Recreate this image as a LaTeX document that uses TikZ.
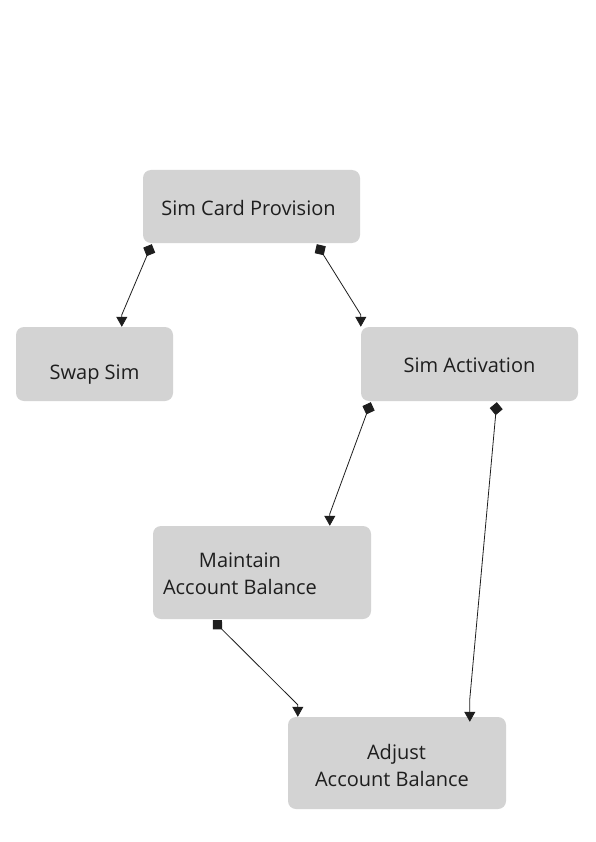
\documentclass[tikz,border=0pt]{standalone}
\usepackage{fontspec}
\setmainfont{Open Sans}
\usetikzlibrary{arrows.meta,calc}
\definecolor{boxgray}{RGB}{211,211,211}
\definecolor{ink}{RGB}{30,30,30}
\tikzset{
  box/.style={fill=boxgray, draw=none, rounded corners=8pt, inner sep=0pt},
  lbl/.style={font=\fontsize{20}{27}\selectfont, text=ink, inner sep=0pt, align=center, anchor=base},
  conn/.style={draw=ink, line width=0.8pt, {Turned Square[length=13pt,width=13pt]}-{Triangle[length=10pt,width=11pt]}}
}
\begin{document}
\begin{tikzpicture}[x=1pt,y=-1pt]
\useasboundingbox (0,0) rectangle (595,842);
% boxes
\node[box, minimum width=217pt, minimum height=73pt] (scp) at (251.5,206.5) {};
\node[box, minimum width=157pt, minimum height=74pt] (swap) at (94.5,364) {};
\node[box, minimum width=217pt, minimum height=74pt] (act) at (469.5,364) {};
\node[box, minimum width=218pt, minimum height=93pt] (maint) at (262,572.5) {};
\node[box, minimum width=218pt, minimum height=92pt] (adj) at (397,763) {};
% labels
\node[lbl] (tscp) at (248.5,215) {Sim Card Provision};
\node[lbl] (tswap) at (94.5,379) {Swap Sim};
\node[lbl] (tact) at (469.5,372) {Sim Activation};
\node[lbl] (tmaint) at (240,594) {Maintain\hspace{9pt}\\Account Balance};
\node[lbl] (tadj) at (392,786) {\hspace{9pt}Adjust\\Account Balance};
% connectors
\draw[conn] ([xshift=9pt,yshift=-1pt]scp.south west) -- ([xshift=106pt,yshift=12pt]swap.north west) -- ([xshift=106pt]swap.north west);
\draw[conn] ([xshift=174pt,yshift=-1pt]scp.south west) -- ([xshift=0pt,yshift=12pt]act.north west) -- ([xshift=0pt]act.north west);
\draw[conn] ([xshift=10pt,yshift=-1pt]act.south west) -- ([xshift=177pt,yshift=12pt]maint.north west) -- ([xshift=177pt]maint.north west);
\draw[conn] ([xshift=136pt,yshift=-1pt]act.south west) -- ([xshift=182pt,yshift=18pt]adj.north west) -- ([xshift=182pt,yshift=-5pt]adj.north west);
\draw[conn] ([xshift=60pt,yshift=-1pt]maint.south west) -- ([xshift=10pt,yshift=12pt]adj.north west) -- ([xshift=10pt]adj.north west);
\end{tikzpicture}
\end{document}
